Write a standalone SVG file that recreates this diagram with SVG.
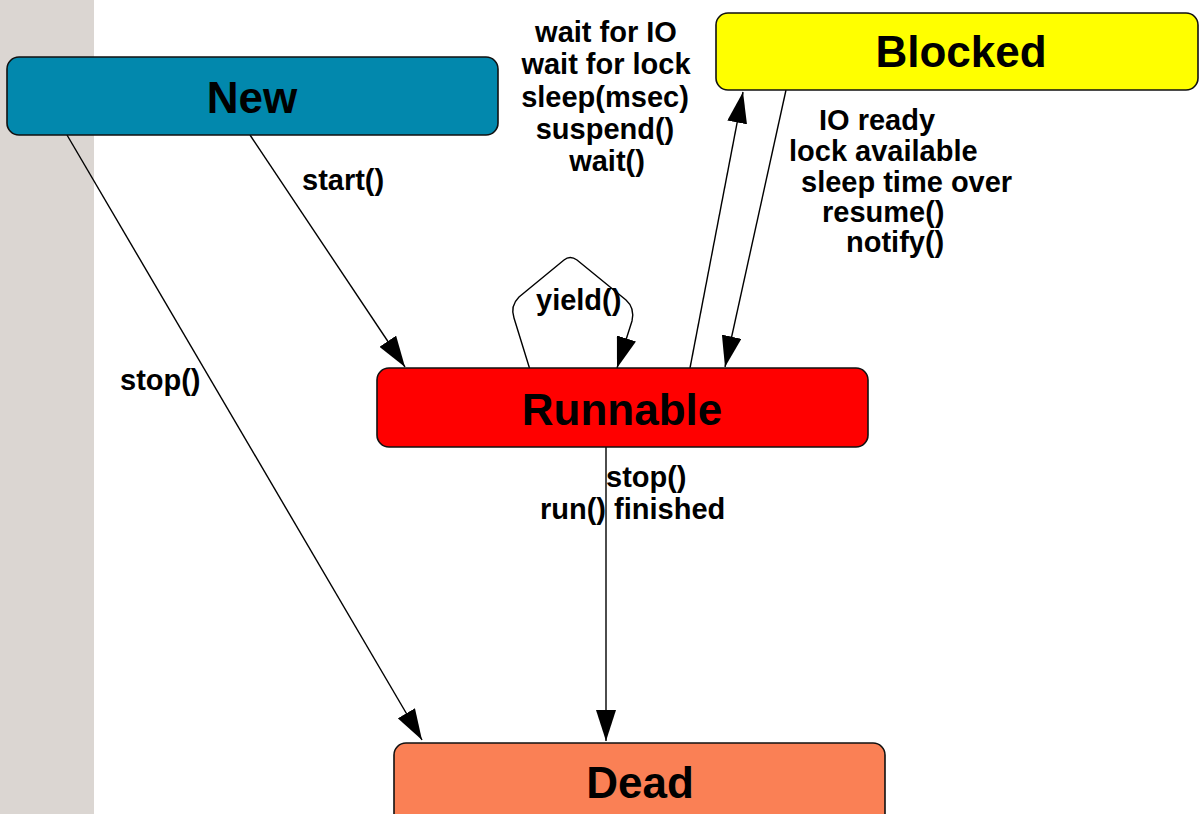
<svg xmlns="http://www.w3.org/2000/svg" width="1200" height="814" viewBox="0 0 1200 814">
<style>
.node rect{stroke:#111;stroke-width:1.6}
.nt{font-family:"Liberation Sans",Arial,sans-serif;font-weight:bold;font-size:44px;fill:#000;text-anchor:middle}
.lbl{font-family:"Liberation Sans",Arial,sans-serif;font-weight:bold;font-size:29px;fill:#000}
.mid{text-anchor:middle}
.edge{fill:none;stroke:#000;stroke-width:1.4;marker-end:url(#ah)}
</style>
<defs>
<marker id="ah" markerUnits="userSpaceOnUse" markerWidth="32" markerHeight="20" refX="31" refY="10" orient="auto" viewBox="0 0 32 20">
<path d="M0,0 L31,10 L0,20 z" fill="#000"/>
</marker>
</defs>
<rect x="0" y="0" width="1200" height="814" fill="#fff"/>
<rect x="0" y="0" width="94" height="814" fill="#dbd6d2"/>
<g id="edges">
<path class="edge" d="M250,135 L405,367"/>
<path class="edge" d="M67,135 L422,740"/>
<path class="edge" d="M606,446 L606,741"/>
<path class="edge" d="M690,368 L743,92"/>
<path class="edge" d="M786,90 L725,367"/>
<path class="edge" d="M531,373 L514,318 Q510,306 519,297 L564,260 Q570,255 577,260 L626,300 Q635,308 632,321 L617,368"/>
</g>
<g id="labels">
<text class="lbl" x="302" y="190">start()</text>
<text class="lbl" x="120" y="390">stop()</text>
<text class="lbl" x="536" y="310">yield()</text>
<text class="lbl" x="606" y="487">stop()</text>
<text class="lbl" x="540" y="519">run() finished</text>
<text class="lbl mid" x="606" y="42">wait for IO</text>
<text class="lbl mid" x="606" y="74">wait for lock</text>
<text class="lbl mid" x="605" y="107">sleep(msec)</text>
<text class="lbl mid" x="605" y="139">suspend()</text>
<text class="lbl mid" x="607" y="171">wait()</text>
<text class="lbl" x="819" y="130">IO ready</text>
<text class="lbl" x="789" y="161">lock available</text>
<text class="lbl" x="801" y="192">sleep time over</text>
<text class="lbl" x="822" y="222">resume()</text>
<text class="lbl" x="846" y="252">notify()</text>
</g>
<g id="node-new" class="node">
<rect x="7" y="57" width="491" height="78" rx="12" fill="#0288ad"/>
<text class="nt" x="252" y="113">New</text>
</g>
<g id="node-blocked" class="node">
<rect x="716" y="13" width="482" height="77" rx="12" fill="#ffff00"/>
<text class="nt" x="961" y="67">Blocked</text>
</g>
<g id="node-runnable" class="node">
<rect x="377" y="368" width="491" height="79" rx="12" fill="#ff0000"/>
<text class="nt" x="622" y="425">Runnable</text>
</g>
<g id="node-dead" class="node">
<rect x="394" y="743" width="491" height="90" rx="12" fill="#fa8055"/>
<text class="nt" x="640" y="798">Dead</text>
</g>
</svg>
